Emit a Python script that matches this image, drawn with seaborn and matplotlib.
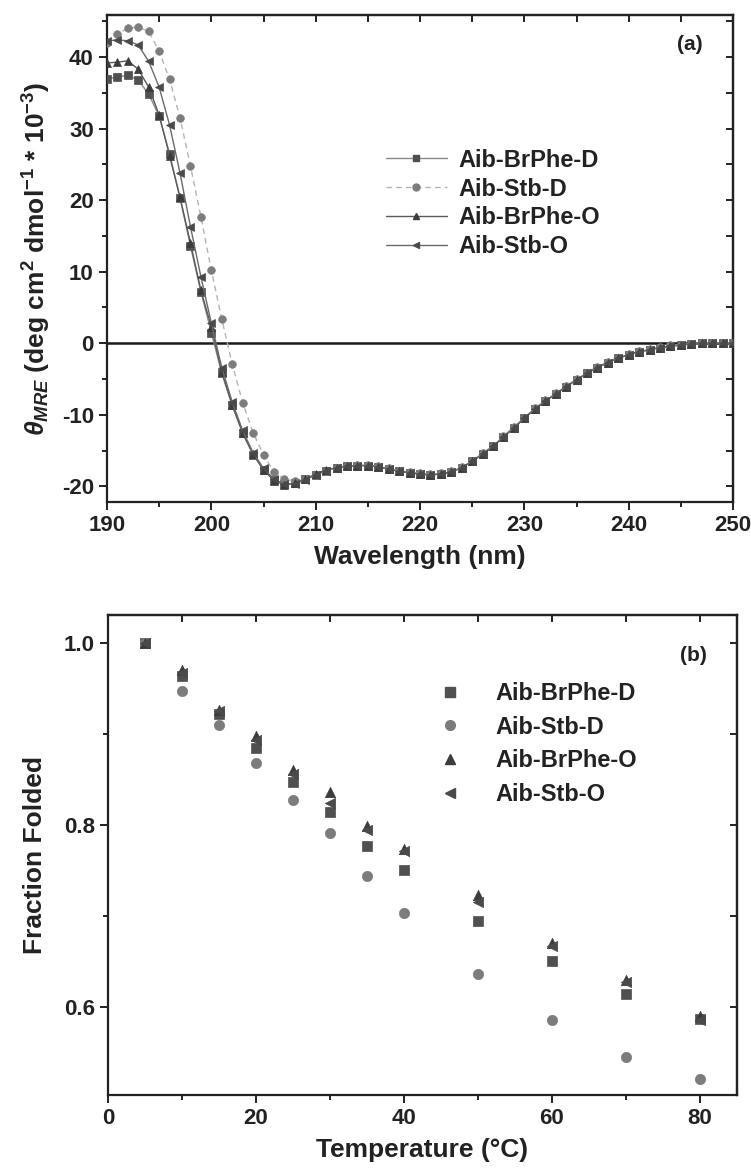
import matplotlib
matplotlib.use("Agg")
import matplotlib.pyplot as plt
import numpy as np
import pandas as pd
import seaborn as sns
from matplotlib.ticker import MultipleLocator

# ---------------- data: panel (a) CD spectra ----------------
wavelength = list(range(190, 251))
series_names = ["Aib-BrPhe-D", "Aib-Stb-D", "Aib-BrPhe-O", "Aib-Stb-O"]

cd_brphe_d = [37.0, 37.2, 37.5, 36.8, 34.8, 31.8, 26.5, 20.3, 13.6, 7.2,
              1.5, -4.2, -8.7, -12.6, -15.6, -17.7, -19.1, -19.7, -19.6, -19.0,
              -18.4, -17.8, -17.4, -17.2, -17.1, -17.1, -17.3, -17.6, -17.9, -18.1,
              -18.3, -18.4, -18.3, -18.0, -17.4, -16.5, -15.5, -14.4, -13.1, -11.8,
              -10.5, -9.2, -8.1, -7.1, -6.1, -5.1, -4.2, -3.4, -2.7, -2.1,
              -1.6, -1.2, -0.9, -0.6, -0.4, -0.25, -0.1, 0.0, 0.0, 0.0, 0.0]
cd_stb_d = [42.0, 43.2, 44.1, 44.2, 43.6, 40.8, 36.9, 31.5, 24.8, 17.7,
            10.2, 3.4, -2.9, -8.3, -12.5, -15.6, -18.0, -19.0, -19.3, -19.0,
            -18.4, -17.8, -17.4, -17.1, -17.0, -17.0, -17.2, -17.5, -17.8, -18.0,
            -18.2, -18.3, -18.2, -17.9, -17.3, -16.4, -15.4, -14.3, -13.0, -11.7,
            -10.4, -9.1, -8.0, -7.0, -6.0, -5.0, -4.1, -3.3, -2.6, -2.0,
            -1.5, -1.1, -0.8, -0.5, -0.3, -0.2, -0.05, 0.0, 0.05, 0.0, 0.0]
cd_brphe_o = [39.2, 39.3, 39.5, 38.3, 35.8, 31.9, 26.2, 20.4, 14.0, 7.4,
              2.3, -4.0, -8.6, -12.5, -15.5, -17.7, -19.2, -19.8, -19.6, -19.0,
              -18.3, -17.7, -17.4, -17.2, -17.1, -17.1, -17.3, -17.6, -17.9, -18.1,
              -18.3, -18.4, -18.3, -18.0, -17.4, -16.5, -15.5, -14.4, -13.1, -11.8,
              -10.5, -9.2, -8.1, -7.1, -6.1, -5.1, -4.2, -3.4, -2.7, -2.1,
              -1.6, -1.2, -0.9, -0.6, -0.4, -0.25, -0.1, 0.0, 0.0, 0.0, 0.0]
cd_stb_o = [42.3, 42.4, 42.3, 41.7, 39.4, 35.8, 30.5, 23.8, 16.3, 9.3,
            2.8, -3.4, -8.2, -12.2, -15.3, -17.5, -19.0, -19.7, -19.7, -19.1,
            -18.4, -17.8, -17.4, -17.2, -17.1, -17.1, -17.3, -17.6, -17.9, -18.1,
            -18.3, -18.4, -18.3, -18.0, -17.4, -16.5, -15.5, -14.4, -13.1, -11.8,
            -10.5, -9.2, -8.1, -7.1, -6.1, -5.1, -4.2, -3.4, -2.7, -2.1,
            -1.6, -1.2, -0.9, -0.6, -0.4, -0.25, -0.1, 0.0, 0.0, 0.0, 0.0]

# ---------------- data: panel (b) thermal melt ----------------
temperature = [5, 10, 15, 20, 25, 30, 35, 40, 50, 60, 70, 80]
ff_brphe_d = [1.0, 0.964, 0.922, 0.885, 0.847, 0.814, 0.777, 0.751, 0.694, 0.650, 0.614, 0.587]
ff_stb_d = [1.0, 0.947, 0.910, 0.868, 0.828, 0.791, 0.744, 0.703, 0.636, 0.586, 0.545, 0.521]
ff_brphe_o = [1.0, 0.971, 0.927, 0.898, 0.861, 0.836, 0.799, 0.774, 0.723, 0.670, 0.630, 0.590]
ff_stb_o = [1.0, 0.967, 0.925, 0.893, 0.856, 0.824, 0.795, 0.771, 0.715, 0.667, 0.627, 0.586]

cd_df = pd.concat([
    pd.DataFrame({"wl": wavelength, "val": v, "series": n})
    for n, v in zip(series_names, [cd_brphe_d, cd_stb_d, cd_brphe_o, cd_stb_o])
])
ff_df = pd.concat([
    pd.DataFrame({"T": temperature, "ff": v, "series": n})
    for n, v in zip(series_names, [ff_brphe_d, ff_stb_d, ff_brphe_o, ff_stb_o])
])

# ---------------- style ----------------
sns.set_style("ticks")
plt.rcParams["font.family"] = ["Liberation Sans", "DejaVu Sans"]
plt.rcParams["font.weight"] = "bold"
plt.rcParams["axes.unicode_minus"] = False
plt.rcParams["mathtext.fontset"] = "custom"
plt.rcParams["mathtext.rm"] = "Liberation Sans:bold"
plt.rcParams["mathtext.it"] = "Liberation Sans:bold:italic"
plt.rcParams["mathtext.bf"] = "Liberation Sans:bold"

markers = {"Aib-BrPhe-D": "s", "Aib-Stb-D": "o", "Aib-BrPhe-O": "^", "Aib-Stb-O": "<"}
mcolors = {"Aib-BrPhe-D": "#505050", "Aib-Stb-D": "#7c7c7c", "Aib-BrPhe-O": "#3c3c3c", "Aib-Stb-O": "#4a4a4a"}
lcolors = {"Aib-BrPhe-D": "#8a8a8a", "Aib-Stb-D": "#b4b4b4", "Aib-BrPhe-O": "#5a5a5a", "Aib-Stb-O": "#6a6a6a"}
lstyles = {"Aib-BrPhe-D": "-", "Aib-Stb-D": (0, (4, 3)), "Aib-BrPhe-O": "-", "Aib-Stb-O": "-"}
TXT = "#222222"

W, H = 751, 1172
fig = plt.figure(figsize=(W / 100, H / 100), dpi=100)

def style_axes(ax):
    for s in ax.spines.values():
        s.set_linewidth(1.6)
        s.set_color(TXT)
    ax.tick_params(which="both", direction="out", width=1.4, colors=TXT,
                   labelsize=16, top=False, right=False)
    ax.tick_params(which="major", length=6)
    ax.tick_params(which="minor", length=3.5)
    for lab in ax.get_xticklabels() + ax.get_yticklabels():
        lab.set_fontweight("bold")

def add_inward_mirror(ax, xstep, ystep):
    sx = ax.secondary_xaxis("top")
    sx.xaxis.set_major_locator(MultipleLocator(xstep))
    sx.tick_params(direction="in", length=5, width=1.4, labeltop=False, colors=TXT)
    sy = ax.secondary_yaxis("right")
    sy.yaxis.set_major_locator(MultipleLocator(ystep))
    sy.tick_params(direction="in", length=5, width=1.4, labelright=False, colors=TXT)
    for s in list(sx.spines.values()) + list(sy.spines.values()):
        s.set_linewidth(1.6)
        s.set_color(TXT)

# ---------------- panel (a) ----------------
ax1 = fig.add_axes([107 / W, 1 - 502 / H, 626 / W, 487 / H])
for n in series_names:
    sub = cd_df[cd_df.series == n]
    sns.lineplot(data=sub, x="wl", y="val", ax=ax1, color=lcolors[n],
                 linestyle=lstyles[n], linewidth=1.0, marker=markers[n],
                 markersize=5.5, markerfacecolor=mcolors[n], markeredgecolor=mcolors[n],
                 markeredgewidth=0.5, label=n, legend=False, zorder=3)
ax1.axhline(0, color="#1a1a1a", linewidth=1.8, zorder=2)
ax1.set_xlim(190, 250)
ax1.set_ylim(-22.2, 45.9)
ax1.xaxis.set_major_locator(MultipleLocator(10))
ax1.xaxis.set_minor_locator(MultipleLocator(5))
ax1.yaxis.set_major_locator(MultipleLocator(10))
ax1.yaxis.set_minor_locator(MultipleLocator(5))
ax1.set_xlabel("Wavelength (nm)", fontsize=19, fontweight="bold", color=TXT, labelpad=6)
ax1.set_ylabel(r"$\theta_{MRE}$ (deg cm$^{2}$ dmol$^{-1}$ * 10$^{-3}$)",
               fontsize=19, fontweight="bold", color=TXT, labelpad=6)
style_axes(ax1)
add_inward_mirror(ax1, 5, 5)
ax1.text(0.952, 0.94, "(a)", transform=ax1.transAxes, ha="right", va="center",
         fontsize=15, fontweight="bold", color=TXT)

h1 = [plt.Line2D([], [], color=lcolors[n], linestyle=lstyles[n], linewidth=1.0,
                 marker=markers[n], markersize=5, markerfacecolor=mcolors[n],
                 markeredgecolor=mcolors[n]) for n in series_names]
leg1 = ax1.legend(h1, series_names, loc="upper left", bbox_to_anchor=(0.43, 0.745),
                  frameon=False, fontsize=17, handlelength=2.6, handletextpad=0.5,
                  labelspacing=0.25, borderaxespad=0)
for t in leg1.get_texts():
    t.set_fontweight("bold")
    t.set_color(TXT)

# ---------------- panel (b) ----------------
ax2 = fig.add_axes([108 / W, 1 - 1095 / H, 629 / W, 480 / H])
for n in series_names:
    sub = ff_df[ff_df.series == n]
    sns.scatterplot(data=sub, x="T", y="ff", ax=ax2, marker=markers[n], s=55,
                    color=mcolors[n], edgecolor=mcolors[n], linewidth=0.5,
                    label=n, legend=False, zorder=3)
ax2.set_xlim(0, 85)
ax2.set_ylim(0.503, 1.031)
ax2.xaxis.set_major_locator(MultipleLocator(20))
ax2.xaxis.set_minor_locator(MultipleLocator(10))
ax2.yaxis.set_major_locator(MultipleLocator(0.2))
ax2.yaxis.set_minor_locator(MultipleLocator(0.1))
ax2.set_xlabel("Temperature (\u00b0C)", fontsize=19, fontweight="bold", color=TXT, labelpad=6)
ax2.set_ylabel("Fraction Folded", fontsize=19, fontweight="bold", color=TXT, labelpad=12)
style_axes(ax2)
add_inward_mirror(ax2, 10, 0.1)
ax2.text(0.952, 0.915, "(b)", transform=ax2.transAxes, ha="right", va="center",
         fontsize=15, fontweight="bold", color=TXT)

h2 = [plt.Line2D([], [], linestyle="none", marker=markers[n], markersize=7,
                 markerfacecolor=mcolors[n], markeredgecolor=mcolors[n]) for n in series_names]
leg2 = ax2.legend(h2, series_names, loc="upper left", bbox_to_anchor=(0.5, 0.88),
                  frameon=False, fontsize=17, handlelength=1.5, handletextpad=1.2,
                  labelspacing=0.45, borderaxespad=0)
for t in leg2.get_texts():
    t.set_fontweight("bold")
    t.set_color(TXT)

fig.savefig("out.png", dpi=100)
